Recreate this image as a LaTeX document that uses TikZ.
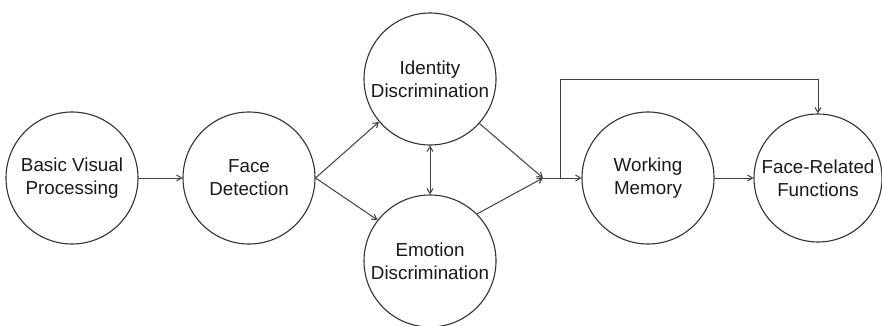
\documentclass[tikz,border=0pt]{standalone}
\usepackage{fontspec}
\setmainfont{Liberation Sans}
\usetikzlibrary{arrows.meta}
\begin{document}
\begin{tikzpicture}[x=1pt,y=-1pt,
  stage/.style={circle,draw=black!80,line width=1.1pt,minimum size=132pt,inner sep=0pt,
    align=center,text=black!90,font=\fontsize{18.8}{23}\selectfont},
  link/.style={draw=black!75,line width=1pt,-{Straight Barb[length=5pt,width=6pt]}}]
\useasboundingbox (0,0) rectangle (882,326);
\node[stage] (bvp) at (72,178) {Basic Visual\\Processing};
\node[stage] (fd)  at (249,178) {Face\\Detection};
\node[stage] (id)  at (430,79) {Identity\\Discrimination};
\node[stage] (ed)  at (430,261) {Emotion\\Discrimination};
\node[stage] (wm)  at (648,178) {Working\\Memory};
\node[stage,minimum size=128pt] (fr) at (818,178) {Face-Related\\Functions};
\coordinate (j) at (543,178);
\coordinate (b) at (560,178);
\coordinate (t) at (560,80);
\draw[link] (bvp.east) -- (fd.west);
\draw[link] (fd.east) -- (id.220);
\draw[link] (fd.east) -- (ed.142);
\draw[link,{Straight Barb[length=5pt,width=6pt]}-{Straight Barb[length=5pt,width=6pt]}] (id.south) -- (ed.north);
\draw[link] (id.-42) -- (j);
\draw[link] (ed.45) -- (j);
\draw[link] (j) -- (wm.west);
\draw[link] (b) -- (t) -| (fr.north);
\draw[link] (wm.east) -- (fr.west);
\end{tikzpicture}
\end{document}
